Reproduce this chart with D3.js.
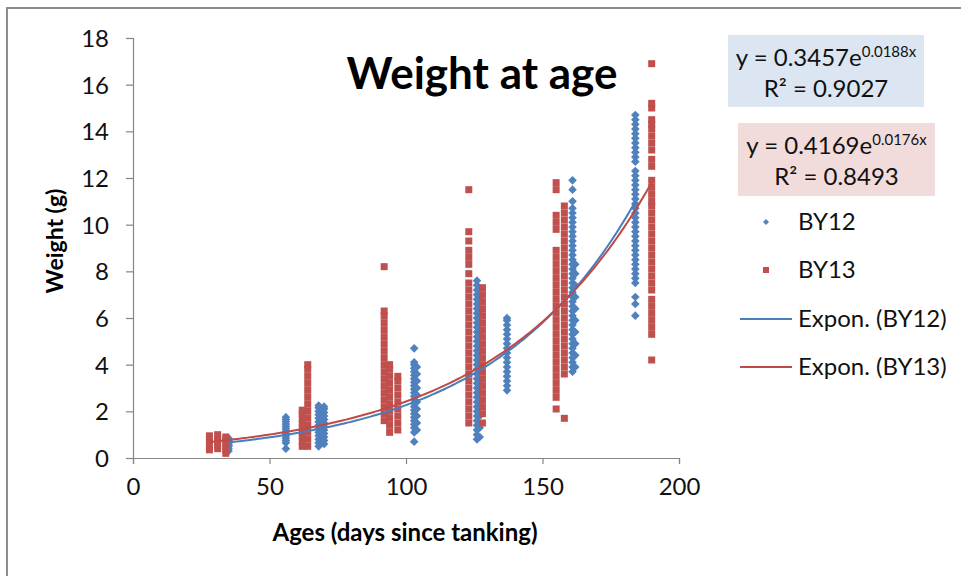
<!DOCTYPE html>
<html>
<head>
<meta charset="utf-8">
<script src="https://cdn.jsdelivr.net/npm/d3@7"></script>
<style>
  body { margin: 0; background: #fff; }
  svg { font-family: Lato, "Liberation Sans", sans-serif; }
</style>
</head>
<body>
<div id="chart"></div>
<script>
// BY12 weights (g), one column per age (days since tanking)
const by12Ages = [35, 56, 68, 70, 103, 104, 126, 127, 137, 161, 162, 184];
const by12Weights = [
    [0.3, 0.4, 0.5, 0.55, 0.6, 0.65, 0.7, 0.75, 0.85],
    [0.4, 0.65, 0.75, 0.85, 0.95, 1.05, 1.15, 1.25, 1.35, 1.45, 1.55, 1.65, 1.75],
    [0.5, 0.65, 0.8, 0.95, 1.1, 1.25, 1.4, 1.55, 1.7, 1.85, 2.0, 2.15, 2.25],
    [0.6, 0.75, 0.9, 1.05, 1.2, 1.35, 1.5, 1.65, 1.8, 1.95, 2.1, 2.2],
    [0.7, 1.1, 1.3, 1.45, 1.6, 1.75, 1.9, 2.05, 2.2, 2.35, 2.5, 2.65, 2.8, 2.95, 3.1, 3.25, 3.4, 3.55, 3.7, 3.85, 4.0, 4.1, 4.7],
    [1.2, 1.5, 1.8, 2.1, 2.4, 2.7, 3.0, 3.3, 3.6, 3.9],
    [0.8, 1.0, 1.2, 1.4, 1.6, 1.8, 2.0, 2.2, 2.4, 2.6, 2.8, 3.0, 3.2, 3.4, 3.6, 3.8, 4.0, 4.2, 4.4, 4.6, 4.8, 5.0, 5.2, 5.4, 5.6, 5.8, 6.0, 6.2, 6.4, 6.6, 6.8, 7.0, 7.2, 7.4, 7.6],
    [0.9, 1.3, 1.8, 2.3, 2.8, 3.3, 3.8, 4.3, 4.8, 5.3, 5.8, 6.3, 6.8],
    [2.9, 3.1, 3.3, 3.5, 3.7, 3.9, 4.1, 4.3, 4.5, 4.7, 4.9, 5.1, 5.3, 5.5, 5.7, 5.9, 6.0],
    [3.7, 3.9, 4.1, 4.3, 4.5, 4.7, 4.9, 5.1, 5.3, 5.5, 5.7, 5.9, 6.1, 6.3, 6.5, 6.7, 6.9, 7.1, 7.3, 7.5, 7.7, 7.9, 8.1, 8.3, 8.5, 8.7, 8.9, 9.1, 9.3, 9.5, 9.7, 9.9, 10.1, 10.3, 10.5, 10.7, 11.0, 11.5, 11.9],
    [3.9, 4.4, 4.9, 5.4, 5.9, 6.4, 6.9, 7.4, 7.9, 8.3],
    [6.1, 6.6, 6.9, 7.5, 7.7, 7.9, 8.1, 8.3, 8.5, 8.7, 8.9, 9.1, 9.3, 9.5, 9.7, 9.9, 10.1, 10.3, 10.5, 10.7, 10.9, 11.1, 11.3, 11.5, 11.7, 11.9, 12.1, 12.3, 12.7, 12.9, 13.1, 13.3, 13.5, 13.7, 13.9, 14.1, 14.3, 14.5, 14.7]
];

// BY13 weights (g)
const by13Ages = [28, 31, 34, 62, 64, 92, 94, 97, 123, 128, 155, 158, 190];
const by13Weights = [
    [0.35, 0.5, 0.65, 0.8, 0.95],
    [0.4, 0.55, 0.7, 0.85, 1.0],
    [0.2, 0.35, 0.5, 0.65, 0.8, 0.9],
    [0.5, 0.7, 0.9, 1.1, 1.3, 1.5, 1.7, 1.9, 2.05],
    [0.5, 0.8, 1.1, 1.4, 1.7, 2.0, 2.3, 2.6, 2.9, 3.2, 3.5, 3.8, 4.0],
    [1.6, 1.9, 2.2, 2.5, 2.8, 3.1, 3.4, 3.7, 4.0, 4.3, 4.6, 4.9, 5.2, 5.5, 5.8, 6.1, 6.3, 8.2],
    [1.1, 1.4, 1.7, 2.0, 2.3, 2.6, 2.9, 3.2, 3.5, 3.8, 4.0],
    [1.2, 1.5, 1.8, 2.1, 2.4, 2.7, 3.0, 3.3, 3.5],
    [1.5, 1.8, 2.1, 2.4, 2.7, 3.0, 3.3, 3.6, 3.9, 4.2, 4.5, 4.8, 5.1, 5.4, 5.7, 6.0, 6.3, 6.6, 6.9, 7.2, 7.5, 7.9, 8.3, 8.6, 8.9, 9.3, 9.7, 11.5],
    [1.5, 1.9, 2.2, 2.5, 2.8, 3.1, 3.4, 3.7, 4.0, 4.3, 4.6, 4.9, 5.2, 5.5, 5.8, 6.1, 6.4, 6.7, 7.0, 7.3],
    [2.1, 2.6, 2.9, 3.2, 3.5, 3.8, 4.1, 4.4, 4.7, 5.0, 5.3, 5.6, 5.9, 6.2, 6.5, 6.8, 7.1, 7.4, 7.7, 8.0, 8.3, 8.6, 8.9, 9.8, 10.1, 10.4, 11.5, 11.8],
    [1.7, 3.6, 3.9, 4.2, 4.5, 4.8, 5.1, 5.4, 5.7, 6.0, 6.3, 6.6, 6.9, 7.2, 7.5, 7.8, 8.1, 8.4, 8.7, 9.0, 9.3, 9.6, 9.9, 10.2, 10.5, 10.8],
    [4.2, 5.3, 5.6, 5.9, 6.2, 6.5, 6.8, 7.2, 7.5, 7.8, 8.1, 8.4, 8.7, 9.0, 9.3, 9.6, 9.9, 10.2, 10.5, 10.8, 11.0, 11.3, 11.6, 11.9, 12.5, 12.8, 13.2, 13.5, 13.8, 14.1, 14.3, 14.5, 15.0, 15.2, 16.9]
];

// exponential trendlines as fitted (y = a * e^(b x)), shown in the labels
const trendNames = ["Expon. (BY12)", "Expon. (BY13)"];
const trendA = [0.3457, 0.4169];
const trendB = [0.0188, 0.0176];
const trendR2 = ["0.9027", "0.8493"];

const xTicks = [0, 50, 100, 150, 200];
const yTicks = [0, 2, 4, 6, 8, 10, 12, 14, 16, 18];

const blue = "#4F81BD", red = "#C0504D";
const blueLine = "#4A7EBB", redLine = "#BE4B48";

const width = 961, height = 576;

const svg = d3.select("#chart").append("svg")
    .attr("width", width)
    .attr("height", height);

// outer chart frame
svg.append("rect")
    .attr("x", 7).attr("y", 8)
    .attr("width", 1000).attr("height", 600)
    .attr("fill", "none")
    .attr("stroke", "#8c8c8c")
    .attr("stroke-width", 2);

const x = d3.scaleLinear().domain([0, 200]).range([133, 679]);
const y = d3.scaleLinear().domain([0, 18]).range([458, 38]);

// axes
const xAxis = svg.append("g")
    .attr("transform", `translate(0,${y(0)})`)
    .call(d3.axisBottom(x).tickValues(xTicks).tickSizeOuter(0).tickSize(6).tickPadding(14));
const yAxis = svg.append("g")
    .attr("transform", `translate(${x(0)},0)`)
    .call(d3.axisLeft(y).tickValues(yTicks).tickSizeOuter(0).tickSize(7).tickPadding(17));

[xAxis, yAxis].forEach(g => {
    g.select(".domain").attr("stroke", "#868686").attr("stroke-width", 1.2);
    g.selectAll(".tick line").attr("stroke", "#868686").attr("stroke-width", 1.2);
    g.selectAll("text")
        .attr("fill", "#111")
        .style("font-size", "24px")
        .style("font-family", "Lato, sans-serif");
});
yAxis.selectAll("text").attr("dy", "0.36em");

// flatten columns into points
function toPoints(ages, weights) {
    let pts = [];
    ages.forEach((a, i) => weights[i].forEach(w => pts.push({age: a, w: w})));
    return pts;
}
const pts12 = toPoints(by12Ages, by12Weights);
const pts13 = toPoints(by13Ages, by13Weights);

// excel style diamond (square turned 45 degrees)
function diamondPath(r) {
    return `M0,${-r}L${r},0L0,${r}L${-r},0Z`;
}

svg.append("g").selectAll("path")
    .data(pts12)
    .enter().append("path")
    .attr("d", diamondPath(4.3))
    .attr("transform", d => `translate(${x(d.age)},${y(d.w)})`)
    .attr("fill", blue);

svg.append("g").selectAll("rect")
    .data(pts13)
    .enter().append("rect")
    .attr("x", d => x(d.age) - 3.5)
    .attr("y", d => y(d.w) - 3.5)
    .attr("width", 7).attr("height", 7)
    .attr("fill", red);

// trendlines over each series' age range
const ranges = [d3.extent(by12Ages), d3.extent(by13Ages)];
const line = d3.line().x(d => x(d[0])).y(d => y(d[1]));
[blueLine, redLine].forEach((col, i) => {
    const [lo, hi] = ranges[i];
    const steps = d3.range(lo, hi + 0.5, 1).map(a => [a, trendA[i] * Math.exp(trendB[i] * a)]);
    svg.append("path")
        .attr("d", line(steps))
        .attr("fill", "none")
        .attr("stroke", col)
        .attr("stroke-width", 2);
});

// title
svg.append("text")
    .attr("x", 482).attr("y", 89)
    .attr("text-anchor", "middle")
    .style("font-size", "44px")
    .style("font-weight", "bold")
    .text("Weight at age");

// axis titles
svg.append("text")
    .attr("x", 405).attr("y", 541)
    .attr("text-anchor", "middle")
    .style("font-size", "24px")
    .style("font-weight", "bold")
    .text("Ages (days since tanking)");

svg.append("text")
    .attr("transform", "translate(63,241) rotate(-90)")
    .attr("text-anchor", "middle")
    .style("font-size", "23px")
    .style("font-weight", "bold")
    .text("Weight (g)");

// equation boxes
const boxes = [
    {x: 728, y: 35, w: 196, h: 72, fill: "#DCE6F2"},
    {x: 738, y: 123, w: 197, h: 73, fill: "#F2DCDB"}
];
boxes.forEach((b, i) => {
    svg.append("rect")
        .attr("x", b.x).attr("y", b.y)
        .attr("width", b.w).attr("height", b.h)
        .attr("fill", b.fill);
    const cx = b.x + b.w / 2;
    const eq = svg.append("text")
        .attr("x", cx).attr("y", b.y + 31)
        .attr("text-anchor", "middle")
        .style("font-size", "24px")
        .attr("fill", "#111");
    eq.append("tspan").text(`y = ${trendA[i]}e`);
    eq.append("tspan")
        .attr("dy", -9)
        .style("font-size", "15px")
        .text(`${trendB[i]}x`);
    svg.append("text")
        .attr("x", cx).attr("y", b.y + 62)
        .attr("text-anchor", "middle")
        .style("font-size", "24px")
        .attr("fill", "#111")
        .text(`R² = ${trendR2[i]}`);
});

// legend
const legend = svg.append("g");
legend.append("path")
    .attr("d", diamondPath(3))
    .attr("transform", "translate(766,222)")
    .attr("fill", blue);
legend.append("rect")
    .attr("x", 763).attr("y", 267).attr("width", 6).attr("height", 6)
    .attr("fill", red);
legend.append("text").attr("x", 798).attr("y", 230).text("BY12");
legend.append("text").attr("x", 798).attr("y", 278).text("BY13");
[blueLine, redLine].forEach((col, i) => {
    const ly = 319 + i * 48;
    legend.append("line")
        .attr("x1", 740).attr("x2", 792)
        .attr("y1", ly).attr("y2", ly)
        .attr("stroke", col).attr("stroke-width", 2);
    legend.append("text").attr("x", 798).attr("y", ly + 8).text(trendNames[i]);
});
legend.selectAll("text")
    .style("font-size", "24px")
    .attr("fill", "#111");
</script>
</body>
</html>
